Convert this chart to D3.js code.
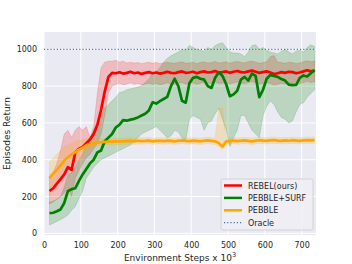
<!DOCTYPE html>
<html><head><meta charset="utf-8">
<script src="https://cdn.jsdelivr.net/npm/d3@7/dist/d3.min.js"></script>
<style>body{margin:0;background:#fff}svg{display:block}text{font-family:"DejaVu Sans",sans-serif;fill:#262626}</style>
</head><body><svg id="c" width="352" height="264"></svg>
<script>
const steps = [15,25,35,45,55,65,75,85,95,105,115,125,135,145,155,165,175,185,195,205,215,225,235,245,255,265,275,285,295,305,315,325,335,345,355,365,375,385,395,405,415,425,435,445,455,465,475,485,495,505,515,525,535,545,555,565,575,585,595,605,615,625,635,645,655,665,675,685,695,705,715,725,735];

const rebelMean = [230,245,270,295,320,360,345,440,460,470,490,510,540,590,670,770,850,872,870,875,868,872,878,870,874,866,872,876,870,874,868,872,878,872,870,876,880,872,874,878,870,876,880,874,876,882,874,876,880,872,878,882,876,874,880,884,878,872,876,880,874,866,870,876,872,878,876,870,874,880,886,880,884];
const rebelUpper = [310,330,380,450,540,560,520,560,580,560,580,520,580,760,900,930,935,935,940,930,935,925,930,925,928,922,926,930,924,928,922,926,930,925,924,928,932,924,926,930,922,928,932,926,928,934,926,928,932,924,930,934,928,926,932,936,930,924,928,932,960,966,930,928,924,930,928,922,926,932,938,932,936];
const rebelLower = [160,170,185,200,220,250,200,300,340,380,410,430,460,490,540,640,760,800,810,815,808,812,818,810,814,806,812,816,810,814,808,812,818,812,810,816,820,812,814,818,810,816,820,814,816,822,814,816,820,812,818,822,816,814,820,824,818,812,816,820,814,806,810,816,812,818,816,810,814,820,826,820,824];

const surfMean = [110,112,120,130,165,230,240,245,285,320,350,380,400,440,450,500,520,540,575,590,615,612,618,622,630,640,650,668,712,705,718,730,742,800,840,800,720,710,815,845,850,840,835,800,790,845,875,855,810,745,755,775,835,850,830,868,855,740,780,840,860,855,850,838,830,808,805,806,845,858,852,870,887];
const surfUpper = [170,175,185,200,250,320,330,360,400,430,480,520,560,600,640,680,700,720,740,765,770,780,785,790,795,800,820,840,870,880,900,930,950,965,975,985,1000,995,1020,1010,1000,995,990,1010,1000,1020,1030,1035,1010,985,980,980,975,960,985,1020,1025,1000,1010,995,985,980,975,990,1000,985,975,990,995,985,1010,1025,1015];
const surfLower = [45,55,65,75,85,100,125,145,190,230,300,330,360,380,400,410,420,430,440,450,460,470,480,500,520,540,550,560,570,580,560,540,520,530,560,550,520,505,620,640,630,620,560,600,610,650,680,620,560,470,520,560,640,640,600,560,540,520,640,690,720,700,660,630,620,600,610,660,700,710,740,760,780];

const pebbleMean = [300,325,345,370,395,415,430,440,455,465,478,485,490,493,495,497,498,498,500,499,500,501,502,500,503,501,502,504,500,502,503,501,504,502,500,503,505,502,501,504,502,500,503,505,502,500,490,472,500,502,504,501,503,505,502,500,503,506,504,502,505,507,504,502,505,503,506,504,502,505,507,505,507];
const pebbleUpper = [390,410,430,450,470,480,490,500,505,510,515,515,515,514,514,515,515,515,517,516,517,518,519,517,520,518,519,521,517,519,520,518,521,519,517,520,522,519,518,521,519,517,520,522,519,517,680,680,517,519,521,518,520,522,519,517,520,523,521,519,522,524,521,519,522,520,523,521,519,522,524,522,524];
const pebbleLower = [200,230,260,290,320,350,370,390,410,425,445,460,470,475,478,480,481,481,483,482,483,484,485,483,486,484,485,487,483,485,486,484,487,485,483,486,488,485,484,487,485,483,486,488,485,483,470,455,483,485,487,484,486,488,485,483,486,489,487,485,488,490,487,485,488,486,489,487,485,488,490,488,490];

const oracleValue = [1000];
const xTicks = [0,100,200,300,400,500,600,700];
const yTicks = [0,200,400,600,800,1000];
const seriesNames = ["REBEL(ours)","PEBBLE+SURF","PEBBLE"];
const seriesColors = ["#ff0000","#008000","#ffa500"];
const oracleName = "Oracle";
const oracleColor = "#4c72b0";

const svg = d3.select("#c");
const L=44,R=316,T=32,B=235;
const x = d3.scaleLinear().domain([0,739]).range([L,R]);
const y = d3.scaleLinear().domain([-9,1094]).range([B,T]);

svg.append("rect").attr("x",L).attr("y",T).attr("width",R-L).attr("height",B-T).attr("fill","#eaeaf2");
const g = svg.append("g");
g.selectAll(".gx").data(xTicks).join("line").attr("x1",d=>x(d)).attr("x2",d=>x(d)).attr("y1",T).attr("y2",B).attr("stroke","#fff").attr("stroke-width",1);
g.selectAll(".gy").data(yTicks).join("line").attr("y1",d=>y(d)).attr("y2",d=>y(d)).attr("x1",L).attr("x2",R).attr("stroke","#fff").attr("stroke-width",1);

const fmt = d3.format("d");
const xa = svg.append("g").attr("transform",`translate(0,${B})`).call(d3.axisBottom(x).tickValues(xTicks).tickFormat(fmt).tickSize(0).tickPadding(7));
const ya = svg.append("g").attr("transform",`translate(${L},0)`).call(d3.axisLeft(y).tickValues(yTicks).tickFormat(fmt).tickSize(0).tickPadding(7));
[xa,ya].forEach(a=>{a.select(".domain").remove();a.selectAll("text").attr("font-size",8).attr("fill","#262626").style("font-family","DejaVu Sans");});

const data = [
  {m:rebelMean,u:rebelUpper,l:rebelLower},
  {m:surfMean,u:surfUpper,l:surfLower},
  {m:pebbleMean,u:pebbleUpper,l:pebbleLower}
];
const area = d3.area().x((d,i)=>x(steps[i])).y0(d=>y(d[0])).y1(d=>y(d[1]));
const line = d3.line().x((d,i)=>x(steps[i])).y(d=>y(d));

data.forEach((s,k)=>{
  const pts = s.l.map((v,i)=>[v,s.u[i]]);
  svg.append("path").datum(pts).attr("d",area).attr("fill",seriesColors[k]).attr("fill-opacity",0.2)
    .attr("stroke",seriesColors[k]).attr("stroke-opacity",0.2).attr("stroke-width",0.8);
});
data.forEach((s,k)=>{
  svg.append("path").datum(s.m).attr("d",line).attr("fill","none").attr("stroke",seriesColors[k]).attr("stroke-width",2.7).attr("stroke-linejoin","round");
});
svg.selectAll(".oracle").data(oracleValue).join("line").attr("x1",L).attr("x2",R).attr("y1",d=>y(d)).attr("y2",d=>y(d))
  .attr("stroke",oracleColor).attr("stroke-width",1.2).attr("stroke-dasharray","1.2,2");

svg.append("text").attr("x",(L+R)/2).attr("y",261).attr("text-anchor","middle").attr("font-size",9)
  .html('Environment Steps x 10<tspan dy="-4" font-size="6.5">3</tspan>');
svg.append("text").attr("transform",`translate(10,${(T+B)/2}) rotate(-90)`).attr("text-anchor","middle").attr("font-size",9).text("Episodes Return");

const lg = svg.append("g");
lg.append("rect").attr("x",221).attr("y",179).attr("width",92).attr("height",51).attr("rx",2)
  .attr("fill","#eeeef4").attr("fill-opacity",0.85).attr("stroke","#cccccc").attr("stroke-width",0.8);
const items = seriesNames.map((n,i)=>({n,c:seriesColors[i],dash:null,w:2.5})).concat([{n:oracleName,c:oracleColor,dash:"1.2,2",w:1.2}]);
items.forEach((it,i)=>{
  const yy = 185.5 + i*12.4;
  lg.append("line").attr("x1",224).attr("x2",242).attr("y1",yy).attr("y2",yy).attr("stroke",it.c).attr("stroke-width",it.w).attr("stroke-dasharray",it.dash);
  lg.append("text").attr("x",248).attr("y",yy+3).attr("font-size",8).text(it.n);
});
</script></body></html>
